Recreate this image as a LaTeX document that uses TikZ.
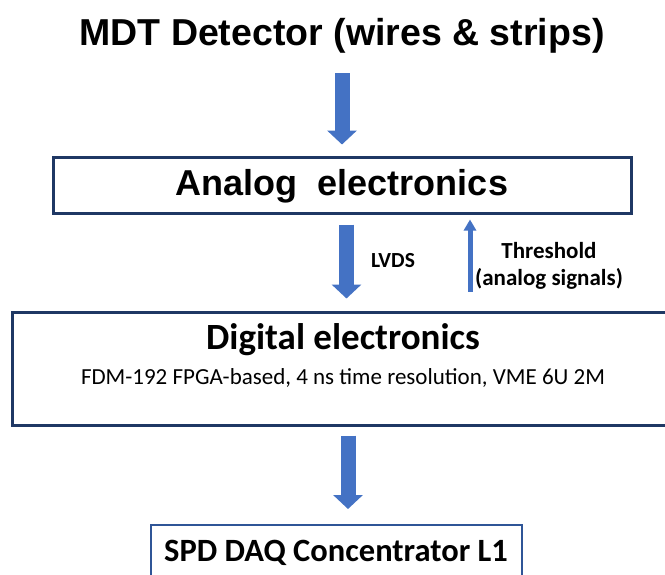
\documentclass[tikz,border=0pt]{standalone}
\usepackage{fontspec}
\setmainfont{Carlito}
\newfontfamily\arialfont{Liberation Sans}
\usetikzlibrary{arrows.meta}
\definecolor{arrowblue}{HTML}{4472C4}
\definecolor{boxnavy}{HTML}{1F3864}
\definecolor{boxblue}{HTML}{2F5597}

\begin{document}
\begin{tikzpicture}[x=1pt,y=-1pt,line join=miter,
  bigarrow/.style={arrowblue,line width=15pt,-{Triangle[length=14pt,width=29pt]}},
  thinarrow/.style={arrowblue,line width=5pt,-{Triangle[length=11pt,width=12pt]}},
  stagebox/.style={draw=boxnavy,line width=3pt,inner sep=0pt},
  label/.style={font=\bfseries\fontsize{23}{27}\selectfont,align=center}]
\clip (0,0) rectangle (665,574);
\fill[white] (0,0) rectangle (665,574);
% title and boxes
\node[font=\arialfont\bfseries\fontsize{37.5}{40}\selectfont] (mdt) at (342,36) {MDT Detector (wires \& strips)};
\node[stagebox,minimum width=578pt,minimum height=56pt] (analog) at (342,185) {};
\node[font=\arialfont\bfseries\fontsize{36}{40}\selectfont] (analogtxt) at (342,186) {Analog\ \ electronics};
\node[stagebox,minimum width=660pt,minimum height=113pt] (digital) at (342,368.5) {};
\node[font=\bfseries\fontsize{37}{40}\selectfont] (digitaltxt) at (343,340) {Digital electronics};
\node[font=\fontsize{23}{26}\selectfont] (digitalsub) at (343,378) {FDM-192 FPGA-based, 4 ns time resolution, VME 6U 2M};
\node[draw=boxblue,line width=2pt,minimum width=371pt,minimum height=70pt,inner sep=0pt] (spd) at (336.5,560) {};
\node[font=\bfseries\fontsize{32.5}{36}\selectfont] (spdtxt) at (336,553) {SPD DAQ Concentrator L1};
% arrows
\draw[bigarrow,shorten <=16pt,shorten >=11pt] (mdt.south) -- (mdt.south |- analog.north);
\draw[bigarrow,shorten <=10pt,shorten >=12pt] ([xshift=4.5pt]analog.south) -- ([xshift=4.5pt]analog.south |- digital.north);
\draw[thinarrow,shorten <=19pt,shorten >=5pt] ([xshift=128pt]analog.south |- digital.north) -- ([xshift=128pt]analog.south);
\draw[bigarrow,shorten <=9pt,shorten >=15pt] ([xshift=6pt]digital.south) -- ([xshift=6pt]digital.south |- spd.north);
\node[label,font=\bfseries\fontsize{21.5}{27}\selectfont] (lvds) at (393,261) {LVDS};
\node[label] (thr) at (549,266) {Threshold\\(analog signals)};
\end{tikzpicture}
\end{document}
